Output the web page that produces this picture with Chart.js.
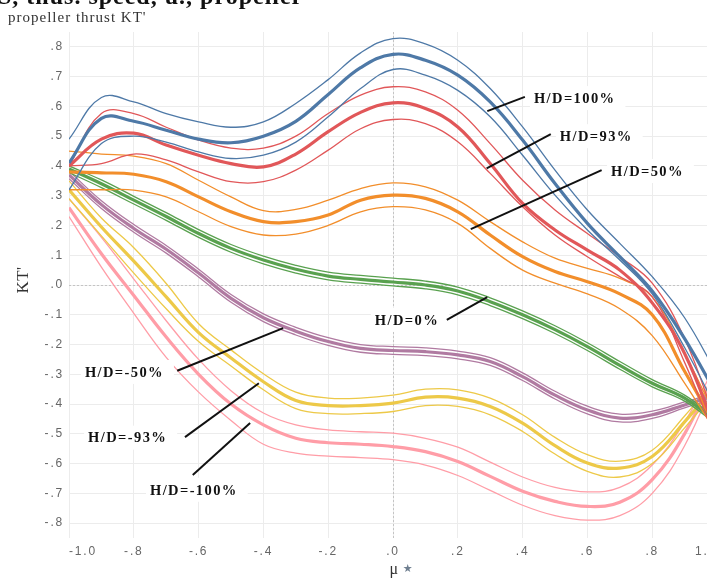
<!DOCTYPE html>
<html>
<head>
<meta charset="utf-8">
<script src="https://cdn.jsdelivr.net/npm/chart.js@4.4.1/dist/chart.umd.min.js"></script>
<style>
html, body { margin: 0; padding: 0; background: #fff; overflow: hidden; }
#wrap { width: 707px; height: 578px; overflow: hidden; }
canvas { display: block; }
</style>
</head>
<body>
<div id="wrap"><canvas id="kt" width="725" height="578"></canvas></div>
<script>
// advance coefficient mu (x) and thrust coefficient KT' (y)
const mu = [-1.0, -0.9, -0.8, -0.7, -0.6, -0.5, -0.4, -0.3, -0.2, -0.1, 0, 0.1, 0.2, 0.3, 0.4, 0.5, 0.6, 0.7, 0.8, 0.9, 1.0];

const xTicks = [-1.0, -0.8, -0.6, -0.4, -0.2, 0, 0.2, 0.4, 0.6, 0.8, 1.0];
const xTickLabels = ['-1.0', '-.8', '-.6', '-.4', '-.2', '.0', '.2', '.4', '.6', '.8', '1.0'];
const yTicks = [-0.8, -0.7, -0.6, -0.5, -0.4, -0.3, -0.2, -0.1, 0, 0.1, 0.2, 0.3, 0.4, 0.5, 0.6, 0.7, 0.8];
const yTickLabels = ['-.8', '-.7', '-.6', '-.5', '-.4', '-.3', '-.2', '-.1', '.0', '.1', '.2', '.3', '.4', '.5', '.6', '.7', '.8'];

// H/D = 100%
const hd100Hi  = [0.49, 0.63, 0.615, 0.576, 0.548, 0.53, 0.548, 0.61, 0.69, 0.78, 0.828, 0.81, 0.755, 0.66, 0.531, 0.386, 0.252, 0.14, 0.028, -0.11, -0.30];
const hd100    = [0.41, 0.56, 0.55, 0.52, 0.49, 0.478, 0.50, 0.55, 0.64, 0.73, 0.775, 0.755, 0.705, 0.615, 0.487, 0.341, 0.207, 0.095, -0.02, -0.18, -0.37];
const hd100Lo  = [0.32, 0.475, 0.50, 0.48, 0.447, 0.425, 0.436, 0.48, 0.565, 0.66, 0.724, 0.705, 0.654, 0.565, 0.436, 0.302, 0.185, 0.084, -0.03, -0.21, -0.42];
// H/D = 93%
const hd93Hi   = [0.40, 0.576, 0.576, 0.53, 0.487, 0.46, 0.46, 0.5, 0.576, 0.638, 0.666, 0.649, 0.587, 0.475, 0.352, 0.252, 0.173, 0.095, 0.006, -0.18, -0.47];
const hd93     = [0.40, 0.49, 0.51, 0.47, 0.436, 0.408, 0.397, 0.44, 0.515, 0.58, 0.612, 0.593, 0.531, 0.408, 0.274, 0.185, 0.117, 0.05, -0.06, -0.23, -0.50];
const hd93Lo   = [0.40, 0.408, 0.44, 0.42, 0.38, 0.347, 0.347, 0.386, 0.453, 0.525, 0.556, 0.542, 0.481, 0.375, 0.263, 0.168, 0.095, 0.028, -0.04, -0.26, -0.53];
// H/D = 50%
const hd50Hi   = [0.45, 0.44, 0.433, 0.408, 0.352, 0.296, 0.25, 0.254, 0.285, 0.324, 0.343, 0.33, 0.285, 0.213, 0.145, 0.09, 0.056, 0.022, -0.04, -0.23, -0.45];
const hd50     = [0.38, 0.377, 0.372, 0.347, 0.296, 0.246, 0.213, 0.213, 0.235, 0.285, 0.302, 0.291, 0.246, 0.168, 0.095, 0.045, 0.011, -0.03, -0.1, -0.29, -0.48];
const hd50Lo   = [0.32, 0.32, 0.319, 0.296, 0.246, 0.196, 0.168, 0.171, 0.2, 0.246, 0.263, 0.252, 0.207, 0.123, 0.05, 0.006, -0.03, -0.08, -0.17, -0.33, -0.50];
// H/D = 0%
const hd0Hi    = [0.40, 0.353, 0.298, 0.243, 0.186, 0.136, 0.097, 0.066, 0.043, 0.032, 0.023, 0.013, -0.007, -0.043, -0.087, -0.137, -0.194, -0.257, -0.318, -0.37, -0.45];
const hd0      = [0.39, 0.34, 0.285, 0.23, 0.173, 0.123, 0.084, 0.053, 0.03, 0.019, 0.01, 0.0, -0.02, -0.056, -0.1, -0.15, -0.207, -0.27, -0.33, -0.38, -0.46];
const hd0Lo    = [0.378, 0.327, 0.272, 0.217, 0.16, 0.11, 0.071, 0.04, 0.017, 0.006, -0.003, -0.013, -0.033, -0.069, -0.113, -0.163, -0.22, -0.283, -0.342, -0.39, -0.47];
// H/D = -50%
const hdm50Hi  = [0.383, 0.283, 0.203, 0.133, 0.053, -0.032, -0.097, -0.142, -0.177, -0.2, -0.207, -0.211, -0.222, -0.244, -0.295, -0.357, -0.407, -0.434, -0.424, -0.393, -0.36];
const hdm50    = [0.37, 0.27, 0.19, 0.12, 0.04, -0.045, -0.11, -0.155, -0.19, -0.213, -0.22, -0.224, -0.235, -0.257, -0.308, -0.37, -0.42, -0.447, -0.436, -0.403, -0.37];
const hdm50Lo  = [0.357, 0.257, 0.177, 0.107, 0.027, -0.058, -0.123, -0.168, -0.203, -0.226, -0.233, -0.237, -0.248, -0.27, -0.321, -0.383, -0.433, -0.46, -0.448, -0.413, -0.38];
// H/D = -93%
const hdm93Hi  = [0.35, 0.225, 0.125, 0.005, -0.13, -0.218, -0.298, -0.36, -0.38, -0.38, -0.37, -0.35, -0.352, -0.38, -0.436, -0.512, -0.57, -0.592, -0.555, -0.44, -0.31];
const hdm93    = [0.32, 0.195, 0.08, -0.04, -0.16, -0.245, -0.325, -0.388, -0.405, -0.405, -0.397, -0.377, -0.38, -0.408, -0.464, -0.54, -0.598, -0.615, -0.576, -0.46, -0.33];
const hdm93Lo  = [0.29, 0.165, 0.04, -0.08, -0.19, -0.272, -0.352, -0.415, -0.432, -0.432, -0.425, -0.405, -0.408, -0.436, -0.492, -0.568, -0.626, -0.645, -0.6, -0.48, -0.35];
// H/D = -100%
const hdm100Hi = [0.29, 0.16, 0.02, -0.12, -0.25, -0.355, -0.43, -0.47, -0.487, -0.493, -0.498, -0.515, -0.545, -0.595, -0.645, -0.68, -0.695, -0.68, -0.605, -0.46, -0.26];
const hdm100   = [0.26, 0.105, -0.035, -0.175, -0.30, -0.40, -0.47, -0.515, -0.53, -0.535, -0.543, -0.56, -0.593, -0.643, -0.693, -0.727, -0.744, -0.73, -0.654, -0.5, -0.28];
const hdm100Lo = [0.23, 0.06, -0.095, -0.243, -0.36, -0.455, -0.535, -0.565, -0.575, -0.58, -0.587, -0.605, -0.64, -0.69, -0.74, -0.775, -0.79, -0.775, -0.7, -0.54, -0.30];

// callouts: text, text anchor (left, middle) and leader line, in data units
const calloutText  = ['H/D=100%', 'H/D=93%', 'H/D=50%', 'H/D=0%', 'H/D=-50%', 'H/D=-93%', 'H/D=-100%'];
const calloutAt    = [[0.435, 0.628], [0.515, 0.5], [0.673, 0.383], [-0.056, -0.117], [-0.951, -0.292], [-0.941, -0.513], [-0.75, -0.688]];
const leaderStart  = [[0.407, 0.632], [0.487, 0.507], [0.644, 0.386], [0.166, -0.117], [-0.666, -0.288], [-0.642, -0.511], [-0.618, -0.638]];
const leaderEnd    = [[0.291, 0.584], [0.289, 0.392], [0.24, 0.188], [0.291, -0.041], [-0.339, -0.145], [-0.414, -0.33], [-0.441, -0.464]];

const groups = [
    { color: '#4e79a7', lines: [hd100Hi, hd100, hd100Lo] },
    { color: '#e15759', lines: [hd93Hi, hd93, hd93Lo] },
    { color: '#f28e2b', lines: [hd50Hi, hd50, hd50Lo] },
    { color: '#59a14f', lines: [hd0Hi, hd0, hd0Lo] },
    { color: '#b07aa1', lines: [hdm50Hi, hdm50, hdm50Lo] },
    { color: '#edc948', lines: [hdm93Hi, hdm93, hdm93Lo] },
    { color: '#ff9da7', lines: [hdm100Hi, hdm100, hdm100Lo] }
];

const datasets = [];
groups.forEach(g => {
    g.lines.forEach((vals, i) => {
        datasets.push({
            data: vals.map((v, k) => ({ x: mu[k], y: v })),
            borderColor: g.color,
            borderWidth: i === 1 ? 3.2 : 1.3,
            pointRadius: 0,
            fill: false,
            tension: 0.4
        });
    });
});

const decor = {
    id: 'decor',
    beforeDraw(chart) {
        chart.ctx.letterSpacing = '1.8px'; // tick labels are spaced out
    },
    beforeDatasetsDraw(chart) {
        const { ctx, chartArea: a, scales: { x, y } } = chart;
        ctx.save();
        ctx.strokeStyle = '#c4c4c4';
        ctx.lineWidth = 1;
        ctx.setLineDash([2, 2]);
        const x0 = Math.round(x.getPixelForValue(0)) + 0.5;
        const y0 = Math.round(y.getPixelForValue(0)) + 0.5;
        ctx.beginPath();
        ctx.moveTo(x0, a.top); ctx.lineTo(x0, a.bottom);
        ctx.moveTo(a.left, y0); ctx.lineTo(a.right, y0);
        ctx.stroke();
        ctx.restore();
    },
    afterDatasetsDraw(chart) {
        const { ctx, scales: { x, y } } = chart;
        ctx.save();
        ctx.letterSpacing = '1.4px';
        ctx.font = 'bold 14.5px "Liberation Serif"';
        ctx.textBaseline = 'middle';
        ctx.textAlign = 'left';
        calloutText.forEach((t, i) => {
            const px = x.getPixelForValue(calloutAt[i][0]);
            const py = y.getPixelForValue(calloutAt[i][1]);
            const w = ctx.measureText(t).width;
            ctx.fillStyle = '#fff';
            ctx.fillRect(px - 4, py - 12, w + 14, 24);
            ctx.fillStyle = '#111';
            ctx.fillText(t, px, py + 1);
            ctx.strokeStyle = '#111';
            ctx.lineWidth = 2;
            ctx.beginPath();
            ctx.moveTo(x.getPixelForValue(leaderStart[i][0]), y.getPixelForValue(leaderStart[i][1]));
            ctx.lineTo(x.getPixelForValue(leaderEnd[i][0]), y.getPixelForValue(leaderEnd[i][1]));
            ctx.stroke();
        });
        ctx.restore();
    },
    afterDraw(chart) {
        const ctx = chart.ctx;
        ctx.save();
        // cropped caption line from the source page
        ctx.letterSpacing = '1px';
        ctx.fillStyle = '#111';
        ctx.font = 'bold 24px "Liberation Serif"';
        ctx.textBaseline = 'alphabetic';
        ctx.fillText('S, thus. speed, u., propeller', -2, 4);
        // chart title
        ctx.font = '15px "Liberation Serif"';
        ctx.fillStyle = '#333';
        ctx.fillText("propeller thrust KT'", 8, 22);
        // y axis title
        ctx.letterSpacing = '0.5px';
        ctx.font = '17px "Liberation Serif"';
        ctx.textAlign = 'center';
        ctx.textBaseline = 'middle';
        ctx.save();
        ctx.translate(24, 280);
        ctx.rotate(-Math.PI / 2);
        ctx.fillText("KT'", 0, 0);
        ctx.restore();
        // x axis title with pin icon
        ctx.font = '16px "Liberation Serif"';
        ctx.fillText('μ', 394, 570);
        ctx.font = '11px "DejaVu Sans"';
        ctx.fillStyle = '#6f7f90';
        ctx.fillText('★', 408, 569);
        ctx.restore();
        ctx.letterSpacing = '0px';
    }
};

new Chart(document.getElementById('kt'), {
    type: 'line',
    data: { datasets: datasets },
    options: {
        responsive: false,
        animation: false,
        events: [],
        layout: { padding: { top: 32, right: 8, left: 0, bottom: 0 } },
        plugins: { legend: { display: false }, tooltip: { enabled: false } },
        scales: {
            x: {
                type: 'linear',
                min: -1.0,
                max: 1.0,
                afterBuildTicks: s => { s.ticks = xTicks.map(v => ({ value: v })); },
                afterFit: s => { s.height = 40; },
                grid: { color: '#ececec', drawTicks: false },
                border: { display: false },
                ticks: {
                    align: 'inner',
                    padding: 6,
                    maxRotation: 0,
                    autoSkip: false,
                    color: '#666',
                    font: { family: 'Liberation Sans', size: 12 },
                    callback: (v, i) => xTickLabels[i]
                }
            },
            y: {
                min: -0.85,
                max: 0.85,
                afterBuildTicks: s => { s.ticks = yTicks.map(v => ({ value: v })); },
                afterFit: s => { s.width = 69; },
                grid: { color: '#ececec', drawTicks: false },
                border: { display: false },
                ticks: {
                    padding: 5,
                    color: '#666',
                    font: { family: 'Liberation Sans', size: 12 },
                    callback: (v, i) => yTickLabels[i]
                }
            }
        }
    },
    plugins: [decor]
});
</script>
</body>
</html>
